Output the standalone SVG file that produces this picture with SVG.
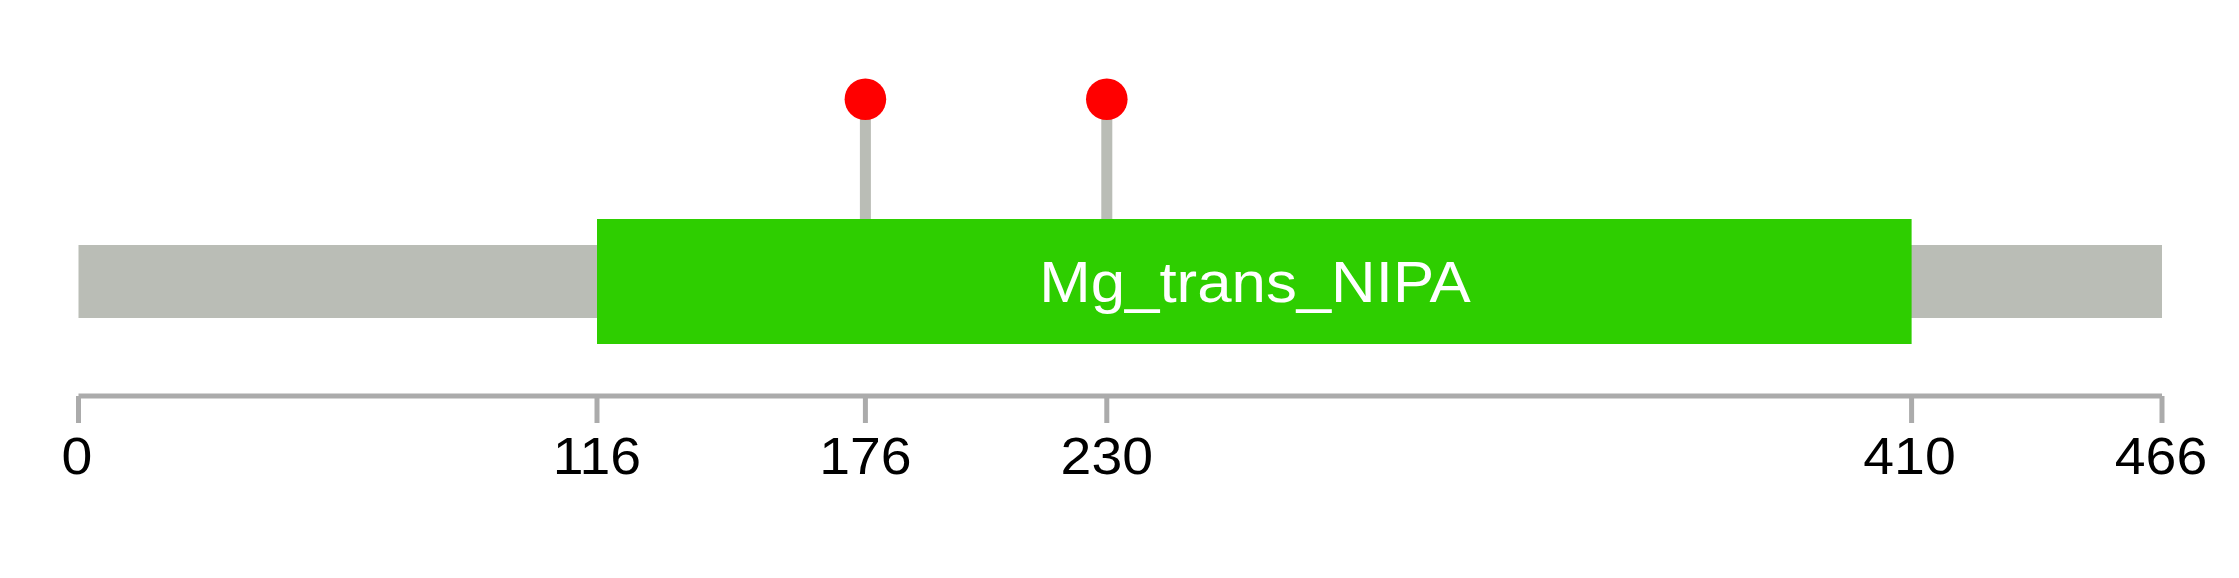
<svg xmlns="http://www.w3.org/2000/svg" width="2239" height="578" viewBox="0 0 2239 578">
<style>
.tick-label{font-family:"Liberation Sans",Arial,sans-serif;font-size:52px;fill:#000;text-anchor:middle}
.domain-label{font-family:"Liberation Sans",Arial,sans-serif;font-size:58px;fill:#fff;text-anchor:middle}
.axis{stroke:#ababab;stroke-width:5;fill:none}
.stem{stroke:#babdb6;stroke-width:11}
.dot{fill:#ff0000}
</style>
<rect width="2239" height="578" fill="#fff"/>
<g id="backbone">
<rect x="78.5" y="245" width="2083.5" height="73" fill="#babdb6"/>
</g>
<g id="connectors">
<line class="stem" x1="865.4" y1="100" x2="865.4" y2="219"/>
<line class="stem" x1="1106.8" y1="100" x2="1106.8" y2="219"/>
</g>
<g id="domain-Mg_trans_NIPA">
<rect x="597" y="219" width="1314.6" height="125" fill="#2ece00"/>
<text class="domain-label" transform="translate(1255,302) scale(1.065,1)">Mg_trans_NIPA</text>
</g>
<g id="mutation-176">
<circle class="dot" cx="865.4" cy="99.3" r="20.8"/>
</g>
<g id="mutation-230">
<circle class="dot" cx="1106.8" cy="99.3" r="20.8"/>
</g>
<g id="axis">
<path class="axis" d="M78.5 396 H2162"/>
<path class="axis" d="M78.5 396 V423 M597 396 V423 M865.4 396 V423 M1106.8 396 V423 M1911.6 396 V423 M2162 396 V423"/>
<text class="tick-label" transform="translate(77,474) scale(1.065,1)">0</text>
<text class="tick-label" transform="translate(597,474) scale(1.065,1)">116</text>
<text class="tick-label" transform="translate(865.4,474) scale(1.065,1)">176</text>
<text class="tick-label" transform="translate(1106.8,474) scale(1.065,1)">230</text>
<text class="tick-label" transform="translate(1909.5,474) scale(1.065,1)">410</text>
<text class="tick-label" transform="translate(2161,474) scale(1.065,1)">466</text>
</g>
</svg>
